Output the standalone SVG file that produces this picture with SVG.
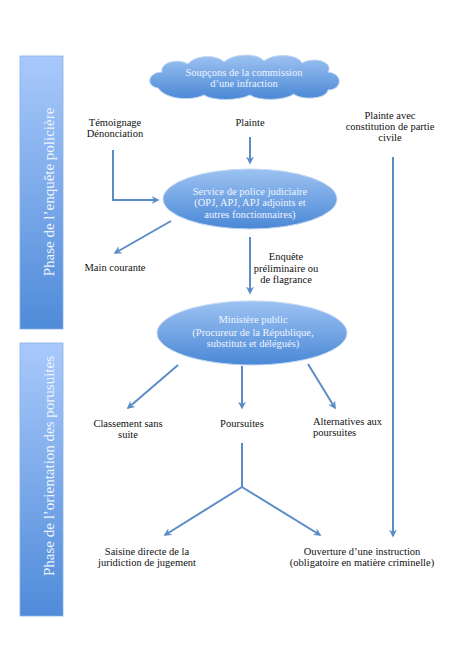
<svg xmlns="http://www.w3.org/2000/svg" width="474" height="670" viewBox="0 0 474 670">
<defs>
<linearGradient id="gBar" x1="0" y1="0" x2="0" y2="1">
<stop offset="0" stop-color="#a9c9fb"/>
<stop offset="1" stop-color="#4f8bd9"/>
</linearGradient>
<linearGradient id="gNode" x1="0" y1="0" x2="0" y2="1">
<stop offset="0" stop-color="#9dc2f2"/>
<stop offset="1" stop-color="#4a88d6"/>
</linearGradient>
<marker id="ah" viewBox="0 0 10 10" refX="8" refY="5" markerWidth="4" markerHeight="4" orient="auto" markerUnits="strokeWidth">
<path d="M0,0 L10,5 L0,10 L3,5 Z" fill="#5b8cc8"/>
</marker>
<style>
.bar{fill:url(#gBar);stroke:#8aaee0;stroke-width:0.8}
.node{fill:url(#gNode);stroke:#c3d8f2;stroke-width:1}
.bt{font-family:"Liberation Serif",serif;font-size:15px;fill:#eef4ff}
.nt{font-family:"Liberation Serif",serif;font-size:10.5px;fill:#eef4ff;text-anchor:middle}
.lt{font-family:"Liberation Serif",serif;font-size:10.5px;fill:#111;text-anchor:middle}
.ln{fill:none;stroke:#5b8cc8;stroke-width:2}
.arr{marker-end:url(#ah)}
</style>
</defs>
<rect width="474" height="670" fill="#fff"/>
<g id="phase1">
<rect class="bar" x="20" y="56" width="43" height="273"/>
<text class="bt" transform="translate(54,192) rotate(-90)" text-anchor="middle">Phase de l’enquête policière</text>
</g>
<g id="phase2">
<rect class="bar" x="20" y="343" width="43" height="273"/>
<text class="bt" transform="translate(54,466) rotate(-90)" text-anchor="middle">Phase de l’orientation des porusuites</text>
</g>
<g id="connectors">
<line class="ln arr" x1="250" y1="137" x2="250" y2="163"/>
<polyline class="ln arr" points="113,150 113,200 158,200"/>
<line class="ln arr" x1="171" y1="221" x2="115" y2="253"/>
<line class="ln arr" x1="250" y1="237" x2="250" y2="293"/>
<line class="ln arr" x1="393" y1="157" x2="393" y2="536"/>
<line class="ln arr" x1="178" y1="365" x2="128" y2="408"/>
<line class="ln arr" x1="242" y1="366" x2="242" y2="408"/>
<line class="ln arr" x1="308" y1="364" x2="335" y2="408"/>
<line class="ln" x1="242" y1="443" x2="242" y2="487"/>
<line class="ln arr" x1="242" y1="487" x2="165" y2="535"/>
<line class="ln arr" x1="242" y1="487" x2="320" y2="535"/>
</g>
<g id="soupcons">
<path class="node" d="M158,88 C145,86 148,72 162,72 C160,62 178,58 188,64 C196,54 218,55 224,62 C234,53 258,53 264,61 C274,53 298,54 302,63 C314,56 334,62 328,72 C344,74 342,90 328,90 C326,100 300,100 294,94 C284,101 258,101 250,95 C238,101 212,101 204,95 C192,101 166,100 158,88 Z"/>
<text class="nt" x="244" y="76">Soupçons de la commission</text>
<text class="nt" x="244" y="87">d’une infraction</text>
</g>
<g id="temoignage">
<text class="lt" x="115" y="126">Témoignage</text>
<text class="lt" x="115" y="137">Dénonciation</text>
</g>
<g id="plainte">
<text class="lt" x="250" y="126">Plainte</text>
</g>
<g id="plainte-pc">
<text class="lt" x="390" y="119">Plainte avec</text>
<text class="lt" x="390" y="130">constitution de partie</text>
<text class="lt" x="390" y="141">civile</text>
</g>
<g id="police">
<ellipse class="node" cx="250" cy="199" rx="87" ry="30"/>
<text class="nt" x="250" y="195">Service de police judiciaire</text>
<text class="nt" x="250" y="206">(OPJ, APJ, APJ adjoints et</text>
<text class="nt" x="250" y="218">autres fonctionnaires)</text>
</g>
<g id="main-courante">
<text class="lt" x="115" y="271">Main courante</text>
</g>
<g id="enquete">
<text class="lt" x="286" y="260">Enquête</text>
<text class="lt" x="286" y="272">préliminaire ou</text>
<text class="lt" x="286" y="283">de flagrance</text>
</g>
<g id="ministere">
<ellipse class="node" cx="252" cy="333" rx="95" ry="32"/>
<text class="nt" x="253" y="323">Ministère public</text>
<text class="nt" x="253" y="336">(Procureur de la République,</text>
<text class="nt" x="253" y="347">substituts et délégués)</text>
</g>
<g id="classement">
<text class="lt" x="128" y="427">Classement sans</text>
<text class="lt" x="128" y="438">suite</text>
</g>
<g id="poursuites">
<text class="lt" x="242" y="427">Poursuites</text>
</g>
<g id="alternatives">
<text class="lt" x="313" y="425" text-anchor="start" style="text-anchor:start">Alternatives aux</text>
<text class="lt" x="313" y="436" style="text-anchor:start">poursuites</text>
</g>
<g id="saisine">
<text class="lt" x="147" y="555">Saisine directe de la</text>
<text class="lt" x="147" y="566">juridiction de jugement</text>
</g>
<g id="ouverture">
<text class="lt" x="362" y="555">Ouverture d’une instruction</text>
<text class="lt" x="362" y="566">(obligatoire en matière criminelle)</text>
</g>
</svg>
